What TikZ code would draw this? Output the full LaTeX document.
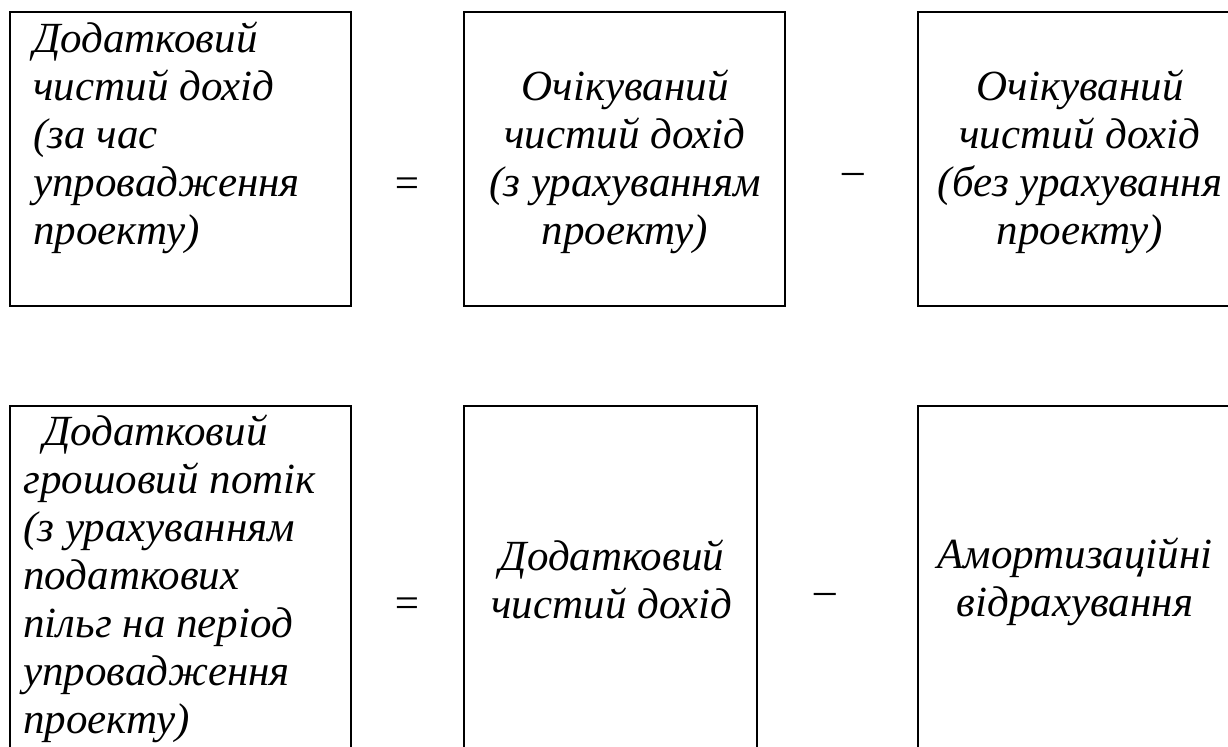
\documentclass[tikz,border=0pt]{standalone}
\usepackage{fontspec}
\setmainfont{Liberation Serif}
\usetikzlibrary{fit}
\begin{document}
\begin{tikzpicture}[x=0.5pt,y=-0.5pt,
  box/.style={draw, line width=1pt, inner sep=0pt},
  txt/.style={font=\fontsize{21.5}{24}\selectfont\itshape, inner sep=0pt},
  op/.style={font=\fontsize{21.5}{24}\selectfont\itshape, inner sep=0pt}]
\useasboundingbox (0,0) rectangle (1228,747);
\clip (0,0) rectangle (1228,747);
% top row boxes
\node[box, fit={(10,12) (351,306)}] (t1) {};
\node[box, fit={(464,12) (785,306)}] (t2) {};
\node[box, fit={(918,12) (1250,306)}] (t3) {};
% bottom row boxes
\node[box, fit={(10,406) (351,770)}] (b1) {};
\node[box, fit={(464,406) (757,770)}] (b2) {};
\node[box, fit={(918,406) (1250,770)}] (b3) {};
% top row texts
\node[txt, anchor=north west, align=left] (t1txt) at (33,18.4)
  {\strut Додатковий\\чистий дохід\\(за час\\упровадження\\проекту)};
\node[txt, anchor=north, align=center] (t2txt) at (625,66.4)
  {\strut Очікуваний\\чистий дохід\\(з урахуванням\\проекту)};
\node[txt, anchor=north, align=center] (t3txt) at (1080,66.4)
  {\strut Очікуваний\\чистий дохід\\(без урахування\\проекту)};
% bottom row texts
\node[txt, anchor=north west, align=left] (b1txt) at (23,411.4)
  {\strut\hspace{10pt}Додатковий\\грошовий потік\\(з урахуванням\\податкових\\пільг на період\\упровадження\\проекту)};
\node[txt, anchor=north, align=center] (b2txt) at (612,536.4)
  {\strut Додатковий\\чистий дохід};
\node[txt, anchor=north, align=center] (b3txt) at (1075,534.4)
  {\strut Амортизаційні\\відрахування};
% operators
\node[op] (eqt) at (407,187.5) {=};
\node[op] (mit) at (853,179) {–};
\node[op] (eqb) at (407,607.5) {=};
\node[op] (mib) at (825.5,599) {–};
\end{tikzpicture}
\end{document}
